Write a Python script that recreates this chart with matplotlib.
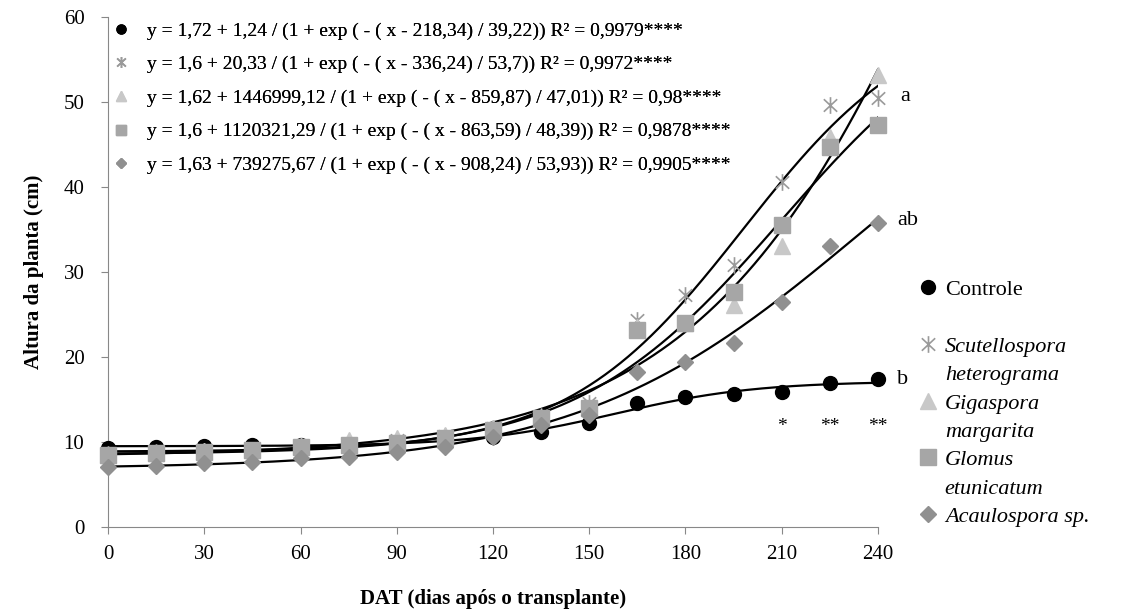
import numpy as np
import matplotlib
matplotlib.use("Agg")
import matplotlib.pyplot as plt
from matplotlib.lines import Line2D
from matplotlib.path import Path

plt.rcParams['font.family'] = ['Liberation Serif', 'DejaVu Serif']

# Dados (altura da planta, cm) a cada 15 dias
dias = [0, 15, 30, 45, 60, 75, 90, 105, 120, 135, 150, 165, 180, 195, 210, 225, 240]
controle = [9.3, 9.4, 9.5, 9.6, 9.7, 9.8, 10.0, 10.3, 10.6, 11.2, 12.2, 14.6, 15.3, 15.6, 15.9, 16.9, 17.4]
scutellospora = [8.6, 8.8, 8.9, 9.1, 9.5, 9.8, 10.2, 10.7, 11.6, 13.0, 14.6, 24.4, 27.3, 30.8, 40.6, 49.6, 50.5]
gigaspora = [8.5, 8.7, 8.9, 9.1, 9.5, 10.2, 10.5, 10.8, 11.6, 12.9, 14.0, 23.5, 24.0, 26.1, 33.0, 45.9, 53.2]
glomus = [8.5, 8.7, 8.8, 9.0, 9.4, 9.6, 9.9, 10.5, 11.4, 12.8, 14.0, 23.2, 24.0, 27.6, 35.5, 44.7, 47.3]
acaulospora = [7.1, 7.2, 7.5, 7.6, 8.1, 8.2, 8.8, 9.4, 10.6, 12.0, 13.2, 18.2, 19.4, 21.6, 26.5, 33.0, 35.8]

equacoes = [
    "y = 1,72 + 1,24 / (1 + exp ( - ( x - 218,34) / 39,22)) R² = 0,9979****",
    "y = 1,6 + 20,33 / (1 + exp ( - ( x - 336,24) / 53,7)) R² = 0,9972****",
    "y = 1,62 + 1446999,12 / (1 + exp ( - ( x - 859,87) / 47,01)) R² = 0,98****",
    "y = 1,6 + 1120321,29 / (1 + exp ( - ( x - 863,59) / 48,39)) R² = 0,9878****",
    "y = 1,63 + 739275,67 / (1 + exp ( - ( x - 908,24) / 53,93)) R² = 0,9905****",
]
letras = ["b", "a", "ab"]          # controle, grupo do topo, acaulospora
signif_dias = [210, 225, 240]
signif = ["*", "**", "**"]


def ajuste_logistico(x, y):
    # y = a + b / (1 + exp(-(x - c) / d)), busca em grade para c e d
    x = np.asarray(x, float)
    y = np.asarray(y, float)
    c = np.linspace(80, 600, 261)[:, None, None]
    d = np.linspace(15, 120, 211)[None, :, None]
    g = 1.0 / (1.0 + np.exp(-(x - c) / d))
    gm = g.mean(axis=2, keepdims=True)
    ym = y.mean()
    var = ((g - gm) ** 2).sum(axis=2, keepdims=True)
    b = ((g - gm) * (y - ym)).sum(axis=2, keepdims=True) / np.maximum(var, 1e-300)
    a = ym - b * gm
    sse = ((a + b * g - y) ** 2).sum(axis=2)
    i, j = np.unravel_index(np.argmin(sse), sse.shape)
    return a[i, j, 0], b[i, j, 0], c[i, 0, 0], d[0, j, 0]


# marcador asterisco estilo Excel (X + traço vertical)
ast = Path([(-0.8, -0.75), (0.8, 0.75), (-0.8, 0.75), (0.8, -0.75), (0, -1), (0, 1)],
           [Path.MOVETO, Path.LINETO, Path.MOVETO, Path.LINETO, Path.MOVETO, Path.LINETO])

series = [
    (controle, dict(marker='o', color='black', ms=10, mec='black')),
    (scutellospora, dict(marker=ast, color='#a0a0a0', ms=12, mfc='none', mec='#9a9a9a', mew=1.2)),
    (gigaspora, dict(marker='^', color='#c8c8c8', ms=12, mec='#c8c8c8')),
    (glomus, dict(marker='s', color='#a6a6a6', ms=11.5, mec='#a6a6a6')),
    (acaulospora, dict(marker='D', color='#909090', ms=8.5, mec='#909090')),
]

fig = plt.figure(figsize=(11.24, 6.11), dpi=100)
ax = fig.add_axes([0.0961, 0.1375, 0.685, 0.8347])

xs = np.linspace(0, 240, 300)
for vals, st in series:
    a, b, c, d = ajuste_logistico(dias, vals)
    ax.plot(xs, a + b / (1 + np.exp(-(xs - c) / d)), color='black', lw=1.6, zorder=2)

for i, (vals, st) in enumerate(series):
    ax.plot(dias, vals, ls='none', zorder=3 + i, clip_on=False, **st)

ax.set_xlim(0, 240)
ax.set_ylim(0, 60)
ax.set_xticks(range(0, 241, 30))
ax.set_yticks(range(0, 61, 10))
for s in ['top', 'right']:
    ax.spines[s].set_visible(False)
for s in ['left', 'bottom']:
    ax.spines[s].set_color('#888888')
ax.tick_params(colors='#888888', labelcolor='black', length=5, labelsize=15)
ax.tick_params(axis='x', pad=8)
ax.tick_params(axis='y', pad=12)
ax.set_xlabel("DAT (dias após o transplante)", fontsize=15, fontweight='bold', labelpad=18)
ax.set_ylabel("Altura da planta (cm)", fontsize=15, fontweight='bold', labelpad=14)

# letras e asteriscos
ax.text(247, 50.6, letras[1], fontsize=16, va='center')
ax.text(246, 36.1, letras[2], fontsize=16, va='center')
ax.text(246, 17.4, letras[0], fontsize=16, va='center')
for d, s in zip(signif_dias, signif):
    ax.text(d, 11.8, s, fontsize=14, ha='center', va='center')

# legenda das equações
h_eq = [Line2D([], [], ls='none', **{k: v for k, v in st.items() if k != 'ms'}, ms=st['ms'] * 0.65)
        for _, st in series]
leg1 = ax.legend(h_eq, equacoes, loc='upper left', bbox_to_anchor=(-0.014, 1.017), frameon=False,
                 fontsize=14, handlelength=1.0, handletextpad=0.85, labelspacing=0.82, borderaxespad=0.3)
ax.add_artist(leg1)

# legenda dos tratamentos
blank = Line2D([], [], ls='none')
h_tr = []
lab_tr = []
nomes = [["Controle", ""], ["Scutellospora", "heterograma"], ["Gigaspora", "margarita"],
         ["Glomus", "etunicatum"], ["Acaulospora sp."]]
for (vals, st), nome in zip(series, nomes):
    h_tr.append(Line2D([], [], ls='none', **st))
    lab_tr.append(nome[0])
    if len(nome) > 1:
        h_tr.append(blank)
        lab_tr.append(nome[1])
leg2 = fig.legend(h_tr, lab_tr, loc='upper left', bbox_to_anchor=(0.799, 0.575), frameon=False,
                  fontsize=16, handlelength=0.9, handletextpad=0.3, labelspacing=0.35)
for t in leg2.get_texts()[2:]:
    t.set_style('italic')

fig.savefig("out.png", dpi=100)
